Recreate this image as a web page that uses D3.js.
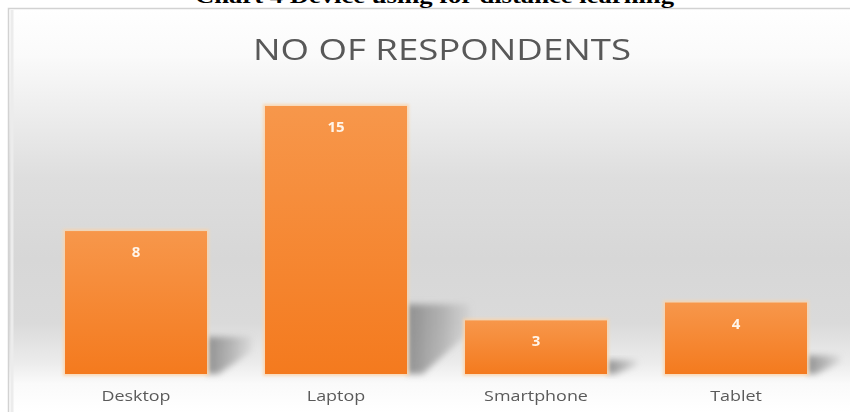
<!DOCTYPE html>
<html>
<head>
<meta charset="utf-8">
<script src="https://cdn.jsdelivr.net/npm/d3@7"></script>
<style>
  html, body { margin: 0; padding: 0; background: #ffffff; }
  svg { display: block; }
</style>
</head>
<body>
<svg id="chart" width="850" height="412"></svg>
<script>
// Device used for distance learning: number of respondents per device
const categories = ["Desktop", "Laptop", "Smartphone", "Tablet"];
const respondents = [8, 15, 3, 4];
const captionText = "Chart 4 Device using for distance learning";
const chartTitle = "NO OF RESPONDENTS";

const W = 850, H = 412;
const svg = d3.select("#chart");
const defs = svg.append("defs");

// Panel background: white at top, grey band through the middle, fading to white at the floor
const bg = defs.append("linearGradient").attr("id", "bgGrad")
  .attr("x1", 0).attr("y1", 0).attr("x2", 0).attr("y2", 1);
[[0, "#ffffff"], [0.12, "#fafafa"], [0.25, "#eeeeee"], [0.42, "#dedede"],
 [0.62, "#d7d7d7"], [0.78, "#dadada"], [0.88, "#ececec"], [0.93, "#fafafa"], [1, "#ffffff"]]
  .forEach(([o, c]) => bg.append("stop").attr("offset", o).attr("stop-color", c));

// Bar fill: lighter orange at top, saturated at bottom
const barGrad = defs.append("linearGradient").attr("id", "barGrad")
  .attr("x1", 0).attr("y1", 0).attr("x2", 0).attr("y2", 1);
barGrad.append("stop").attr("offset", 0).attr("stop-color", "#f7974b");
barGrad.append("stop").attr("offset", 1).attr("stop-color", "#f47a1e");

// Cast shadow fill, fading to the right
const shGrad = defs.append("linearGradient").attr("id", "shGrad")
  .attr("x1", 0).attr("y1", 0).attr("x2", 1).attr("y2", 0);
shGrad.append("stop").attr("offset", 0).attr("stop-color", "#858585").attr("stop-opacity", 0.9);
shGrad.append("stop").attr("offset", 0.6).attr("stop-color", "#9a9a9a").attr("stop-opacity", 0.6);
shGrad.append("stop").attr("offset", 1).attr("stop-color", "#b5b5b5").attr("stop-opacity", 0.25);

defs.append("filter").attr("id", "soft").attr("x", "-30%").attr("y", "-30%")
  .attr("width", "160%").attr("height", "160%")
  .append("feGaussianBlur").attr("stdDeviation", 3);
defs.append("filter").attr("id", "glow").attr("x", "-10%").attr("y", "-10%")
  .attr("width", "120%").attr("height", "120%")
  .append("feGaussianBlur").attr("stdDeviation", 1.5);
defs.append("filter").attr("id", "textSoft")
  .append("feGaussianBlur").attr("stdDeviation", 0.45);

// Panel frame
svg.append("rect").attr("x", 8).attr("y", 8).attr("width", W - 8).attr("height", H - 8)
  .attr("fill", "url(#bgGrad)");
svg.append("rect").attr("x", 8.5).attr("y", 8.5).attr("width", W).attr("height", H)
  .attr("fill", "none").attr("stroke", "#d2d2d2").attr("stroke-width", 1.5);
svg.append("line").attr("x1", 12).attr("x2", 12).attr("y1", 10).attr("y2", H)
  .attr("stroke", "#ececec").attr("stroke-width", 3);

// Caption above the panel, running off the top of the page
svg.append("text")
  .attr("x", 195).attr("y", 3)
  .attr("textLength", 479).attr("lengthAdjust", "spacingAndGlyphs")
  .attr("font-family", "Liberation Serif, Times New Roman, serif")
  .attr("font-weight", "bold").attr("font-size", 20)
  .attr("fill", "#000")
  .text(captionText);

// Scales
const x = d3.scaleBand().domain(categories).range([36, 836])
  .paddingInner(0.29).paddingOuter(0.145);
const y = d3.scaleLinear().domain([0, 15]).range([374, 106]);

const data = categories.map((c, i) => ({ cat: c, val: respondents[i] }));

// Chart title
svg.append("text")
  .attr("x", 253).attr("y", 60)
  .attr("textLength", 378).attr("lengthAdjust", "spacingAndGlyphs")
  .attr("font-family", "Open Sans, Noto Sans, sans-serif")
  .attr("font-size", 30).attr("fill", "#585858")
  .attr("filter", "url(#textSoft)")
  .text(chartTitle);

// Cast shadows to the right of each bar
svg.append("g").selectAll("path").data(data).join("path")
  .attr("d", d => {
    const x1 = x(d.cat) + x.bandwidth();
    const base = y(0);
    const sh = (base - y(d.val)) * 0.26;
    const sw = Math.min(62, 22 + sh * 0.6);
    return d3.line()([
      [x1, base - sh], [x1 + sw, base - sh], [x1 + sw, base - sh * 0.6],
      [x1 + sw * 0.25, base], [x1, base]
    ]) + "Z";
  })
  .attr("fill", "url(#shGrad)")
  .attr("filter", "url(#soft)");

// Bars with a faint light halo
const bars = svg.append("g");
bars.selectAll("rect.halo").data(data).join("rect").attr("class", "halo")
  .attr("x", d => x(d.cat) - 2).attr("y", d => y(d.val) - 2)
  .attr("width", x.bandwidth() + 4).attr("height", d => y(0) - y(d.val) + 4)
  .attr("fill", "#fbd3a8").attr("opacity", 0.8)
  .attr("filter", "url(#glow)");
bars.selectAll("rect.bar").data(data).join("rect").attr("class", "bar")
  .attr("x", d => x(d.cat)).attr("y", d => y(d.val))
  .attr("width", x.bandwidth()).attr("height", d => y(0) - y(d.val))
  .attr("fill", "url(#barGrad)");

// Value labels inside the bar tops
svg.append("g").selectAll("text").data(data).join("text")
  .attr("x", d => x(d.cat) + x.bandwidth() / 2)
  .attr("y", d => y(d.val) + 26)
  .attr("text-anchor", "middle")
  .attr("font-family", "Open Sans, Noto Sans, sans-serif")
  .attr("font-weight", "bold").attr("font-size", 15)
  .attr("fill", "#fff5ea")
  .attr("filter", "url(#textSoft)")
  .text(d => d.val);

// Category axis
const axis = svg.append("g").attr("transform", `translate(0,${y(0)})`)
  .call(d3.axisBottom(x).tickSize(0).tickPadding(17));
axis.select(".domain").remove();
axis.selectAll("text")
  .attr("font-family", "Open Sans, Noto Sans, sans-serif")
  .attr("font-size", 14).attr("fill", "#5a5a5a")
  .attr("filter", "url(#textSoft)")
  .each(function () {
    const t = d3.select(this);
    const len = this.getComputedTextLength();
    t.attr("textLength", len * 1.28).attr("lengthAdjust", "spacingAndGlyphs");
  });
</script>
</body>
</html>
